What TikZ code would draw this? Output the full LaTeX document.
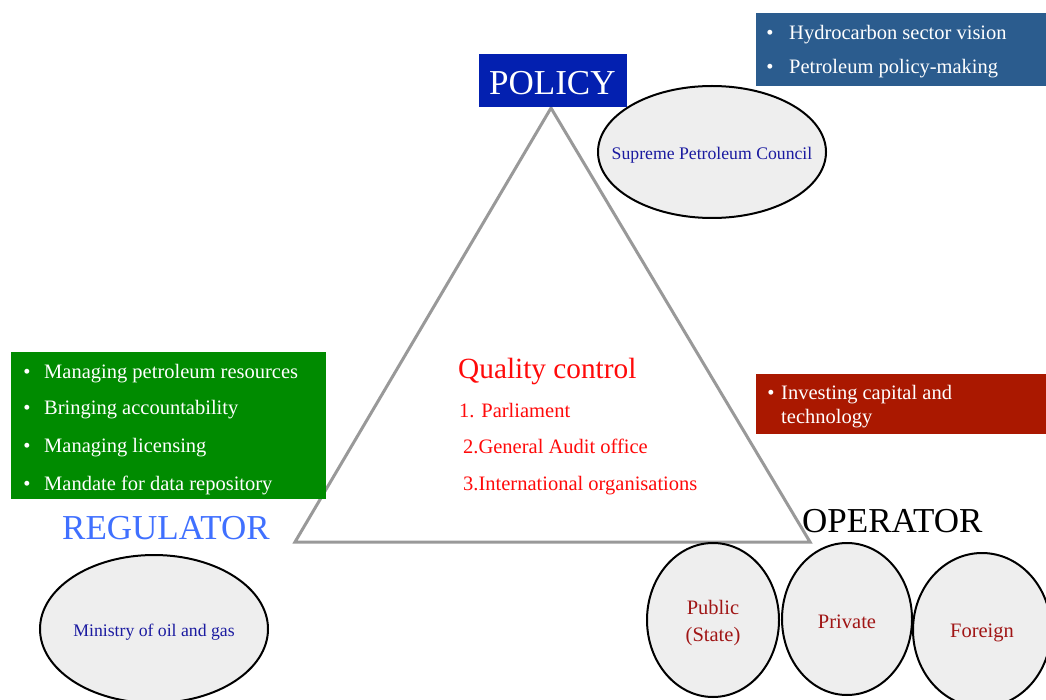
\documentclass[tikz,border=0pt]{standalone}
\usepackage{fontspec}
\setmainfont{Liberation Serif}
\usetikzlibrary{shapes.geometric}
\definecolor{bluebox}{HTML}{2B5C8E}
\definecolor{policybox}{HTML}{0320B0}
\definecolor{greenbox}{HTML}{008B00}
\definecolor{regblue}{HTML}{4070FF}
\definecolor{redbox}{HTML}{AA1800}
\definecolor{qcred}{HTML}{FF0A0A}
\definecolor{opred}{HTML}{A01515}
\definecolor{elltext}{HTML}{1A1AA0}
\definecolor{ellfill}{HTML}{EEEEEE}
\definecolor{trigray}{HTML}{999999}
\begin{document}
\begin{tikzpicture}[x=1pt,y=-1pt,
  txt/.style={inner sep=0pt, anchor=base west},
  bul/.style={inner sep=0pt, anchor=base},
  fs/.style={font=\fontsize{#1}{#1}\selectfont},
  boxfill/.style={draw=none, fill=#1},
  oval/.style={ellipse, draw=black, line width=2pt, fill=ellfill, inner sep=0pt},
  ovaltext/.style={text=#1, inner sep=0pt, align=center, yshift=-3pt}
]
\useasboundingbox (0,0) rectangle (1046,700);
\fill[white] (0,0) rectangle (1046,700);

% triangle
\coordinate (apex) at (551,108);
\coordinate (bl) at (295,542);
\coordinate (br) at (810,542);
\draw[draw=trigray, line width=3pt, line join=miter] (apex) -- (bl) -- (br) -- cycle;

% policy
\node[boxfill=bluebox, minimum width=290pt, minimum height=73pt, inner sep=0pt, anchor=north west] (vbox) at (756,13) {};
\node[bul, fs=20.5, text=white] (b1) at (770,40) {•};
\node[txt, fs=20.5, text=white] (v1) at (789,40) {Hydrocarbon sector vision};
\node[bul, fs=20.5, text=white] (b2) at (770,74) {•};
\node[txt, fs=20.5, text=white] (v2) at (789,74) {Petroleum policy-making};

\node[boxfill=policybox, minimum width=148pt, minimum height=53pt, inner sep=0pt, anchor=north west] (pbox) at (479,54) {};
\node[txt, fs=35, text=white] (policy) at (489,95) {POLICY};

\node[oval, minimum width=228pt, minimum height=132pt] (spc) at (712,152) {};
\node[ovaltext=elltext, fs=17.7] (spct) at (spc.center) {Supreme Petroleum Council};

% regulator
\node[boxfill=greenbox, minimum width=315pt, minimum height=147pt, inner sep=0pt, anchor=north west] (gbox) at (11,352) {};
\node[bul, fs=20.5, text=white] (g1b) at (27,378) {•};
\node[txt, fs=20.5, text=white] (g1) at (44,378) {Managing petroleum resources};
\node[bul, fs=20.5, text=white] (g2b) at (27,414) {•};
\node[txt, fs=20.5, text=white] (g2) at (44,414) {Bringing accountability};
\node[bul, fs=20.5, text=white] (g3b) at (27,452) {•};
\node[txt, fs=20.5, text=white] (g3) at (44,452) {Managing licensing};
\node[bul, fs=20.5, text=white] (g4b) at (27,490) {•};
\node[txt, fs=20.5, text=white] (g4) at (44,490) {Mandate for data repository};

\node[txt, fs=35, text=regblue] (reg) at (62,539) {REGULATOR};
\node[oval, minimum width=228pt, minimum height=148pt] (moe) at (154,629) {};
\node[ovaltext=elltext, fs=17.7] (moet) at (moe.center) {Ministry of oil and gas};

% quality control
\node[txt, fs=29.3, text=qcred] (qc) at (458,378) {Quality control};
\node[txt, fs=20.5, text=qcred] (q1) at (459,417) {1. Parliament};
\node[txt, fs=20.5, text=qcred] (q2) at (463,453) {2.General Audit office};
\node[txt, fs=20.5, text=qcred] (q3) at (463,490) {3.International organisations};

% operator
\node[boxfill=redbox, minimum width=290pt, minimum height=60pt, inner sep=0pt, anchor=north west] (rbox) at (756,374) {};
\node[bul, fs=20.5, text=white] (r1b) at (771,399) {•};
\node[txt, fs=20.5, text=white] (r1) at (781,399) {Investing capital and};
\node[txt, fs=20.5, text=white] (r2) at (781,423) {technology};

\node[txt, fs=35, text=black] (op) at (802,532) {OPERATOR};
\node[oval, minimum width=132pt, minimum height=154pt] (pub) at (713,620) {};
\node[ovaltext=opred, fs=20.5] (pubt) at (pub.center) {Public\\[6pt](State)};
\node[oval, minimum width=130pt, minimum height=152pt] (pri) at (847,619) {};
\node[ovaltext=opred, fs=20.5] (prit) at (pri.center) {Private};
\node[oval, minimum width=138pt, minimum height=154pt] (for) at (982,630) {};
\node[ovaltext=opred, fs=20.5] (fort) at (for.center) {Foreign};
\end{tikzpicture}
\end{document}
